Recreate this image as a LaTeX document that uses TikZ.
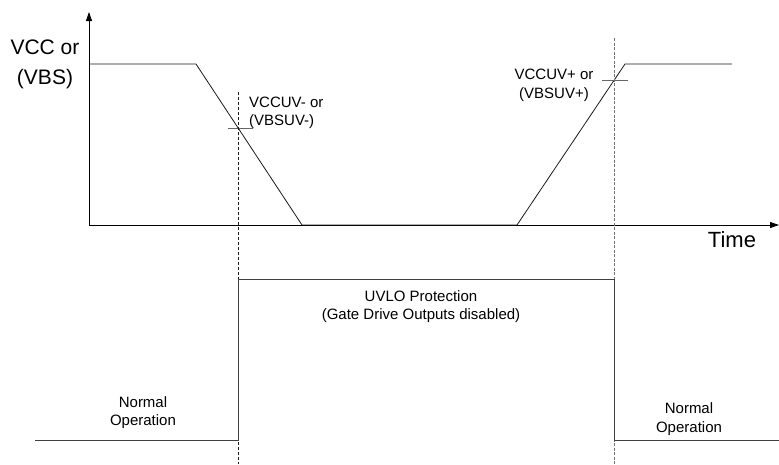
\documentclass[tikz,border=0pt]{standalone}
\usepackage{fontspec}
\setmainfont{Liberation Sans}
\usetikzlibrary{arrows.meta}
\tikzset{
  axis/.style={-{Triangle[length=9pt,width=6pt]}, line width=0.8pt},
  wave/.style={line width=0.8pt, black!90},
  sig/.style={line width=0.9pt, black!75},
  tickmark/.style={line width=1pt, black!60},
  guideL/.style={dash pattern=on 3pt off 2pt, line width=0.7pt, black!90},
  guideR/.style={dash pattern=on 3pt off 1.5pt, line width=1pt, black!55},
  biglbl/.style={font=\fontsize{21}{30}\selectfont, align=center, inner sep=0pt},
  lbl/.style={font=\fontsize{15}{18.5}\selectfont, align=center, inner sep=0pt}
}

\begin{document}
\begin{tikzpicture}[x=1pt, y=-1pt]
\useasboundingbox (0,0) rectangle (779,464);
\coordinate (orig) at (89,225);
\coordinate (ytop) at (89,12);
\coordinate (xend) at (779,225);
\coordinate (hiA) at (89,64);
\coordinate (fallA) at (196,64);
\coordinate (fallB) at (302,225);
\coordinate (riseA) at (517,225);
\coordinate (riseB) at (625,64);
\coordinate (hiB) at (732,64);
\coordinate (cutL) at (238,128);
\coordinate (cutR) at (614,80);
\draw[axis] (orig) -- (ytop);
\draw[axis] (orig) -- (xend);
\draw[wave] (hiA) -- (fallA) -- (fallB) -- (riseA) -- (riseB) -- (hiB);
\draw[tickmark] ([xshift=-10pt]cutL) -- ([xshift=15pt]cutL);
\draw[tickmark] ([xshift=-12pt]cutR) -- ([xshift=14pt]cutR);
\draw[guideL] (238,92) -- (238,464);
\draw[guideR] (614,38) -- (614,464);
\draw[sig] (35,440) -- (238,440) -- (238,279) -- (614,279) -- (614,440) -- (779,440);
\node[biglbl, anchor=base] (vlbl) at (45,84) {VCC or\\(VBS)};
\node[biglbl, font=\fontsize{22}{30}\selectfont, anchor=base] (tlbl) at (732,247) {Time};
\node[lbl, align=left, anchor=base west] (uvlo-) at (249,125.5) {VCCUV- or\\(VBSUV-)};
\node[lbl, anchor=base] (uvlo+) at (554,98) {VCCUV+ or\\(VBSUV+)};
\node[lbl, anchor=base] (prot) at (421,319.5) {UVLO Protection\\(Gate Drive Outputs disabled)};
\node[lbl, anchor=base] (normL) at (143,425.5) {Normal\\Operation};
\node[lbl, anchor=base] (normR) at (689,432) {Normal\\Operation};
\end{tikzpicture}
\end{document}
